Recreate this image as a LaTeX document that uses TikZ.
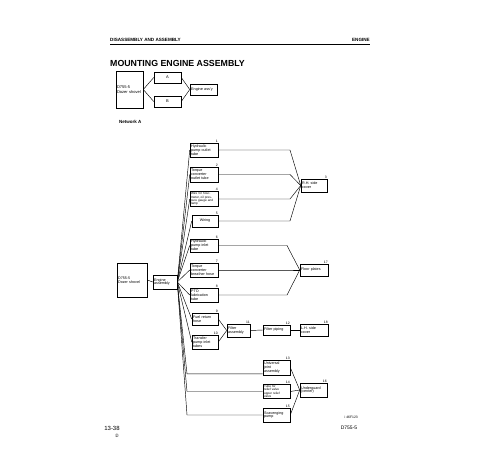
\documentclass[tikz,border=0pt]{standalone}
\usepackage{fontspec}
\setmainfont{Liberation Sans}
\newfontfamily\symfont{DejaVu Sans}
\begin{document}
\begin{tikzpicture}[x=1pt,y=-1pt,
  bx/.style={draw, line width=0.55pt, inner sep=1.1pt, align=left,
    font=\fontsize{3.7}{3.9}\selectfont},
  num/.style={font=\fontsize{3.4}{3.4}\selectfont, inner sep=0.3pt, anchor=south east},
  ln/.style={line width=0.45pt}]
\useasboundingbox (0,0) rectangle (500,450);

% header
\node[anchor=south west, inner sep=0, font=\fontsize{4.6}{5}\selectfont\bfseries] (hd) at (110,42) {DISASSEMBLY AND ASSEMBLY};
\node[anchor=south east, inner sep=0, font=\fontsize{4.6}{5}\selectfont\bfseries] (hr) at (370,42) {ENGINE};
\draw[line width=0.6pt] (110,44) -- (370,44);
\node[anchor=west, inner sep=0, font=\fontsize{8.8}{9}\selectfont\bfseries] (title) at (110,63) {MOUNTING ENGINE ASSEMBLY};

% top diagram
\node[bx, text width=24.8pt, minimum height=37pt, font=\fontsize{4}{4.4}\selectfont] (tdoz) at (129.5,89.5) {D755-5\\Dozer shovel};
\node[bx, minimum width=27pt, minimum height=11pt, align=center, font=\fontsize{4}{4.4}\selectfont] (tA) at (167.5,77.5) {A};
\node[bx, minimum width=27pt, minimum height=11pt, align=center, font=\fontsize{4}{4.4}\selectfont] (tB) at (167.5,101.5) {B};
\node[bx, text width=24.8pt, minimum height=11pt, font=\fontsize{3.8}{4.2}\selectfont] (teng) at (203.5,89.5) {Engine ass'y};
\draw[ln] (tdoz.east) -- (tA.west);
\draw[ln] (tdoz.east) -- (tB.west);
\draw[ln] (tA.east) -- (teng.west);
\draw[ln] (tB.east) -- (teng.west);

\node[anchor=west, inner sep=0, font=\fontsize{4.5}{5}\selectfont\bfseries] (net) at (119,122) {Network A};

% network
\node[bx, text width=27.8pt, minimum height=34pt] (doz) at (132,280) {D755-5\\Dozer shovel};
\node[bx, text width=21.8pt, minimum height=14pt] (eng) at (165,282) {Engine\\assembly};
\draw[ln] (doz.east) -- (eng.west);

\node[bx, text width=25.8pt, minimum height=14pt] (b1) at (204,150) {Hydraulic\\pump outlet\\tube};
\node[bx, text width=25.8pt, minimum height=15pt] (b2) at (204,174.5) {Torque\\converter\\outlet tube};
\node[bx, text width=25.8pt, minimum height=14pt, font=\fontsize{3.1}{3.3}\selectfont] (b3) at (204,199) {Wire for hour-\\meter, oil pres-\\sure gauge and\\lamp};
\node[bx, text width=23.8pt, minimum height=12pt, align=center] (b4) at (205,221) {Wiring};
\node[bx, text width=25.8pt, minimum height=13pt] (b5) at (204,245.5) {Hydraulic\\pump inlet\\tube};
\node[bx, text width=25.8pt, minimum height=14pt] (b6) at (204,270) {Torque\\converter\\breather hose};
\node[bx, text width=25.8pt, minimum height=14pt] (b7) at (204,295) {PTO\\lubrication\\tube};
\node[bx, text width=23.8pt, minimum height=12pt] (b8) at (205,319) {Fuel return\\hose};
\node[bx, text width=23.8pt, minimum height=14pt] (b9) at (205,342) {Transfer\\pump inlet\\tubes};

\node[bx, text width=23.8pt, minimum height=13pt] (rh) at (314,185.5) {R.H. side\\cover};
\node[bx, text width=25.8pt, minimum height=12pt] (fp) at (314,270) {Floor plates};
\node[bx, text width=20.8pt, minimum height=13pt] (fa) at (238.5,330.5) {Filter\\assembly};
\node[bx, text width=24.8pt, minimum height=10pt] (fpi) at (276.5,330) {Filter piping};
\node[bx, text width=25.8pt, minimum height=12pt] (lh) at (314,330) {L.H. side\\cover};
\node[bx, text width=24.8pt, minimum height=15pt] (uj) at (276.5,367.5) {Universal\\joint\\assembly};
\node[bx, text width=24.8pt, minimum height=13pt, font=\fontsize{3.1}{3.3}\selectfont] (tb) at (276.5,391.5) {Tube for\\relief valve\\upper relief\\valve};
\node[bx, text width=24.8pt, minimum height=14pt] (sc) at (276.5,415) {Scavenging\\pump};
\node[bx, text width=24.8pt, minimum height=14pt] (ug) at (313.5,390) {Underguard\\(center)};

% step numbers
\node[num] (n1) at (b1.north east) {1};
\node[num] (n2) at (b2.north east) {2};
\node[num] (n3) at (b3.north east) {4};
\node[num] (n4) at (b4.north east) {5};
\node[num] (n5) at (b5.north east) {6};
\node[num] (n6) at (b6.north east) {7};
\node[num] (n7) at (b7.north east) {8};
\node[num] (n8) at (b8.north east) {9};
\node[num] (n9) at (b9.north east) {10};
\node[num] (nrh) at (rh.north east) {3};
\node[num] (nfp) at (fp.north east) {17};
\node[num] (nfa) at (fa.north east) {11};
\node[num] (nfpi) at (fpi.north east) {12};
\node[num] (nlh) at (lh.north east) {18};
\node[num] (nuj) at (uj.north east) {13};
\node[num] (ntb) at (tb.north east) {14};
\node[num] (nsc) at (sc.north east) {15};
\node[num] (nug) at (ug.north east) {16};

% fan from engine assembly
\foreach \n in {b1,b2,b3,b4,b5,b6,b7,b8,b9}
  \draw[ln] (eng.east) -- (\n.west);
\coordinate (fx) at (187,0);
\coordinate (ujin) at ([yshift=1.5pt]uj.south west);
\draw[ln] (eng.east) -- (fx |- ujin) -- (ujin);
\draw[ln] (eng.east) -- (fx |- tb.west) -- (tb.west);
\draw[ln] (eng.east) -- (fx |- sc.west) -- (sc.west);

% converging to R.H. side cover
\coordinate (cr) at (290,0);
\foreach \n in {b1,b2,b3,b4}
  \draw[ln] (\n.east) -- (cr |- \n.east) -- (rh.west);
% converging to floor plates
\coordinate (cf) at (287,0);
\foreach \n in {b5,b6,b7}
  \draw[ln] (\n.east) -- (cf |- \n.east) -- (fp.west);
% filter chain
\draw[ln] (b8.east) -- (fa.west);
\draw[ln] (b9.east) -- (fa.west);
\draw[ln] (fa.east) -- (fpi.west);
\draw[ln] (fpi.east) -- (lh.west);
% underguard
\draw[ln] (uj.east) -- (ug.west);
\draw[ln] (tb.east) -- (ug.west);
\draw[ln] (sc.east) -- (ug.west);

% footer
\node[font=\fontsize{3.4}{3.6}\selectfont, anchor=east, inner sep=0] (ref) at (358,417) {i 46F123};
\node[font=\fontsize{6}{7}\selectfont, inner sep=0] (pg) at (112,428) {13-38};
\node[font=\symfont\fontsize{4.5}{5}\selectfont, inner sep=0] (circ) at (117,436) {②};
\node[font=\fontsize{5}{6}\selectfont, inner sep=0] (model) at (349,428) {D755-5};
\end{tikzpicture}
\end{document}
